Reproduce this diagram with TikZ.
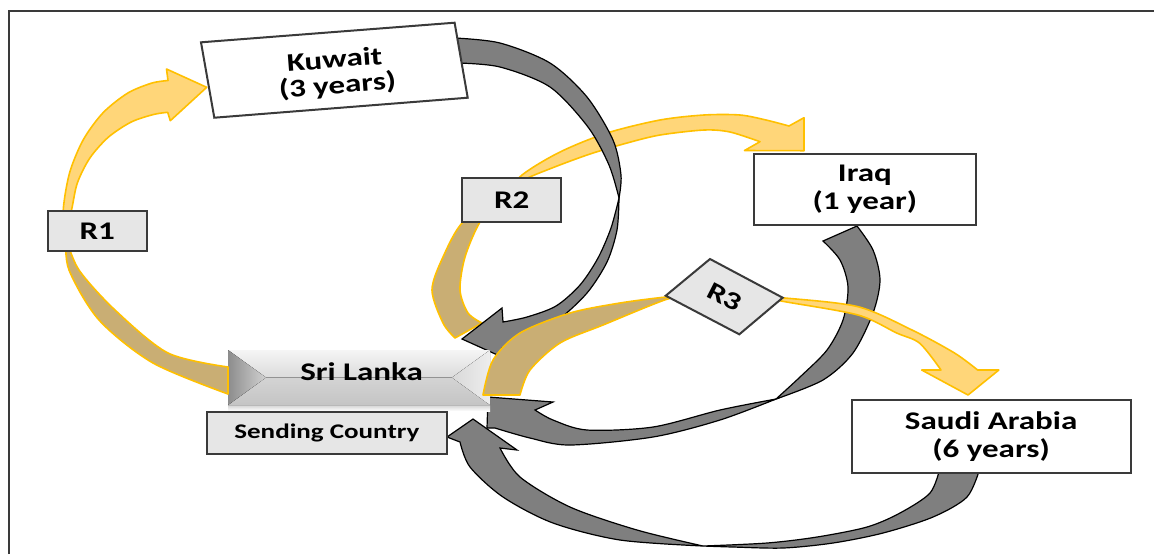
\documentclass[tikz,border=0pt]{standalone}
\usepackage{fontspec}
\setmainfont{Carlito}[FakeStretch=1.3]

\definecolor{gold}{HTML}{FFC000}
\definecolor{ylw}{HTML}{FFD679}
\definecolor{tanc}{HTML}{C9AE74}
\definecolor{darkg}{HTML}{7F7F7F}
\definecolor{lbl}{HTML}{E6E6E6}
\definecolor{edge}{HTML}{3A3A3A}

\tikzset{
  front/.style={fill=ylw, draw=gold, line width=0.8pt, line join=round},
  back/.style={fill=tanc, draw=gold, line width=0.8pt, line join=round},
  ret/.style={fill=darkg, draw=black, line width=0.6pt, line join=miter},
  box/.style={draw=edge, line width=1pt, fill=white, inner sep=0pt},
  tagbox/.style={box, fill=lbl},
  big/.style={font=\fontsize{12.7}{14}\selectfont\bfseries, align=center},
  small/.style={font=\fontsize{10.4}{12}\selectfont\bfseries},
}

\begin{document}
\begin{tikzpicture}[x=0.5pt, y=-0.5pt]
\useasboundingbox[fill=white] (0,0) rectangle (1154,554);

% frame
\draw[edge, line width=1pt] (9,554) -- (9,10.5) -- (1154,10.5);

% ---- R2: Sri Lanka -> Iraq (back side, then front side with head)
\path[back] plot[smooth] coordinates {(500,200) (463,222) (443,257) (432,290) (443,323) (455,338)}
  -- plot[smooth] coordinates {(482,323) (468,313) (460,290) (465,257) (480,222) (500,200)} -- cycle;
\path[front] plot[smooth] coordinates {(500,200) (522,175) (560,152) (607,133) (660,120) (704,115) (740,115) (766,120) (789,126)}
  -- (804,117.7) -- (804,150.7) -- (744.5,150.5) -- (760,141.7)
  -- plot[smooth] coordinates {(760,141.7) (730,132) (704,130) (660,135) (627,143) (590,154) (552,168) (522,181) (500,200)} -- cycle;

% ---- return from Kuwait
\path[ret] plot[smooth] coordinates {(455,38) (500,43) (550,63) (587,97) (613,140) (621,175) (619,198)}
  -- plot[smooth] coordinates {(619,198) (609,165) (588,127) (550,87) (500,67) (458,63)} -- cycle;
\path[ret] plot[smooth] coordinates {(619,198) (617,230) (607,262) (587,293) (558,320) (525,339) (502,348)}
  -- (502,357) -- (462,339) -- (502,308) -- (503,322)
  -- plot[smooth] coordinates {(503,322) (527,317) (556,306) (580,285) (598,258) (611,228) (619,198)} -- cycle;

% ---- return from Iraq
\path[ret] plot[smooth] coordinates {(857,226) (873,250) (880,280) (873,313) (853,353) (823,380) (776,399)}
  -- plot[smooth] coordinates {(776,399) (800,377) (827,350) (843,320) (848,287) (840,260) (823,241)} -- cycle;
\path[ret] plot[smooth] coordinates {(776,399) (720,410) (653,427) (587,430) (553,420) (535,410)}
  -- (553,402) -- (488,397) -- (487,428) -- (495,428)
  -- plot[smooth] coordinates {(495,428) (530,438) (570,445) (653,437) (720,420) (776,399)} -- cycle;

% ---- return from Saudi Arabia
\path[ret] plot[smooth] coordinates {(980,468) (967,497) (933,517) (883,533) (833,543) (783,548) (733,547) (703,546)}
  -- plot[smooth] coordinates {(703,546) (767,543) (817,537) (867,527) (900,513) (930,493) (940,468)} -- cycle;
\path[ret] plot[smooth] coordinates {(703,546) (620,540) (553,523) (503,497) (470,467) (460,442)}
  -- (447,437) -- (473,419) -- (517,450) -- (500,448)
  -- plot[smooth] coordinates {(500,448) (520,477) (570,507) (637,530) (703,546)} -- cycle;

% ---- Sri Lanka, bevelled block
\fill[top color=gray!35, bottom color=white] (228,405) rectangle (490,411);
\fill[top color=white!96!black, bottom color=white!86!black] (228,350) -- (490,350) -- (452,377.5) -- (266,377.5) -- cycle;
\fill[top color=white!83!black, bottom color=white!77!black] (228,405) -- (490,405) -- (452,377.5) -- (266,377.5) -- cycle;
\fill[left color=white!55!black, right color=white!82!black] (228,350) -- (266,377.5) -- (228,405) -- cycle;
\fill[left color=white!85!black, right color=white!93!black] (490,350) -- (452,377.5) -- (490,405) -- cycle;
\node[big] (sl) at (361.6,372) {Sri Lanka};

% ---- R1: Sri Lanka -> Kuwait
\path[back] plot[smooth] coordinates {(66,238) (69,270) (99,320) (153,363) (228,394)}
  -- plot[smooth] coordinates {(228,367) (168,353) (115,310) (79,270) (66,238)} -- cycle;
\path[front] plot[smooth] coordinates {(64,238) (63.4,207.8) (69.8,172.1) (83.3,139.7) (103,112.8) (127.7,93.1) (151.7,83.1) (168,80.5)}
  -- (166.5,69) -- (206.7,87.3) -- (170.3,120.7) -- (167.7,112.3)
  -- plot[smooth] coordinates {(167.7,112.3) (153.4,114.5) (131,122.1) (108.2,137.3) (89.8,158.1) (77.3,183.1) (71.4,210.6) (64,238)} -- cycle;

% ---- R3: Sri Lanka -> Saudi Arabia
\path[back] plot[smooth] coordinates {(690,296) (666,297) (620,303) (570,313) (520,333) (493,360) (483,395)}
  -- plot[smooth] coordinates {(520,395) (530,370) (560,343) (603,325) (666,299.5) (690,296)} -- cycle;
\path[front] plot[smooth] coordinates {(760,297) (785,298) (858,306.7) (912,330) (954.5,353) (977.6,370)}
  -- (998.8,370) -- (968,395) -- (921.7,370) -- (941,370)
  -- plot[smooth] coordinates {(941,370) (919.8,343.3) (896.7,333) (858,315) (785,301.7) (760,297)} -- cycle;

% ---- country boxes
\draw[box] (201,42.3) -- (454.6,22.7) -- (467.7,97.7) -- (214.3,117.7) -- cycle;
\node[big, rotate=4.4] (kuwait) at (334.5,59) {Kuwait};
\node[big, rotate=4.4] (kuwaity) at (337.5,86) {(3 years)};
\node[box, minimum width=110.85pt, minimum height=35.8pt, big] (iraq) at (864.85,189.5) {Iraq\\(1 year)};
\node[box, minimum width=139.45pt, minimum height=36.35pt, big] (saudi) at (991.05,436.35) {Saudi Arabia\\(6 years)};
\node[tagbox, minimum width=120.15pt, minimum height=21pt, small] (send) at (326.85,433.3) {Sending Country};

% ---- loop labels
\node[tagbox, minimum width=49.4pt, minimum height=19.85pt, big] (r1) at (97.2,230.85) {R1};
\node[tagbox, minimum width=49.5pt, minimum height=22.3pt, big] (r2) at (511.8,200) {R2};
\draw[tagbox] (710,259) -- (782.7,297.7) -- (739.3,334.3) -- (665.7,295.7) -- cycle;
\node[big, rotate=-27, inner sep=0pt] (r3) at (724.5,296.7) {R3};
\end{tikzpicture}
\end{document}
